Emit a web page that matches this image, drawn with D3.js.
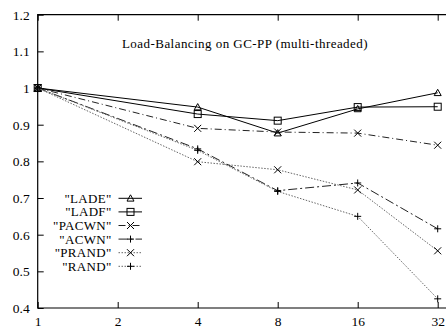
<!DOCTYPE html>
<html>
<head>
<meta charset="utf-8">
<script src="https://d3js.org/d3.v7.min.js"></script>
<style>
  body { margin: 0; background: #fff; }
  text { font-family: "Liberation Serif", "DejaVu Serif", serif; font-size: 13px; fill: #000; }
</style>
</head>
<body>
<svg width="446" height="329"></svg>
<script>
var threads = [1, 2, 4, 8, 16, 32];
var yTicks = [0.4, 0.5, 0.6, 0.7, 0.8, 0.9, 1, 1.1, 1.2];
var names = ["LADE", "LADF", "PACWN", "ACWN", "PRAND", "RAND"];
var xs = [1, 4, 8, 16, 32];
var lade  = [1, 0.948, 0.877, 0.943, 0.987];
var ladf  = [1, 0.929, 0.911, 0.948, 0.949];
var pacwn = [1, 0.890, 0.880, 0.877, 0.844];
var acwn  = [1, 0.834, 0.720, 0.741, 0.616];
var prand = [1, 0.799, 0.777, 0.722, 0.556];
var rand  = [1, 0.830, 0.718, 0.650, 0.425];

var series = [
  {name: names[0], vals: lade,  marker: "tri",  dash: null,       color: "#000"},
  {name: names[1], vals: ladf,  marker: "sq",   dash: null,       color: "#000"},
  {name: names[2], vals: pacwn, marker: "x",    dash: "7,3,1,3",  color: "#222"},
  {name: names[3], vals: acwn,  marker: "plus", dash: "9,3,2,3",  color: "#222"},
  {name: names[4], vals: prand, marker: "x",    dash: "1.5,1.5",  color: "#666"},
  {name: names[5], vals: rand,  marker: "plus", dash: "1.5,1.5",  color: "#666"}
];

var svg = d3.select("svg");
var pLeft = 37.7, pRight = 446, pTop = 14.7, pBottom = 308;

var x = d3.scaleLog().base(2).domain([1, 32]).range([pLeft, 437.7]);
var y = d3.scaleLinear().domain([0.4, 1.2]).range([pBottom, pTop]);

// frame
svg.append("path")
  .attr("d", "M" + pRight + "," + pTop + "H" + pLeft + "V" + pBottom + "H" + pRight)
  .attr("fill", "none").attr("stroke", "#000").attr("stroke-width", 1.2);

var xAxis = svg.append("g")
  .attr("transform", "translate(0," + pBottom + ")")
  .call(d3.axisBottom(x).tickValues(threads).tickFormat(d3.format("d"))
    .tickSizeInner(-6).tickSizeOuter(0).tickPadding(8));
xAxis.select(".domain").remove();
xAxis.selectAll("text").style("font-size", "13.5px");

var xTop = svg.append("g")
  .attr("transform", "translate(0," + pTop + ")")
  .call(d3.axisTop(x).tickValues(threads).tickFormat("").tickSizeInner(-6).tickSizeOuter(0));
xTop.select(".domain").remove();

var yAxis = svg.append("g")
  .attr("transform", "translate(" + pLeft + ",0)")
  .call(d3.axisLeft(y).tickValues(yTicks).tickFormat(d3.format("~g"))
    .tickSizeInner(-6).tickSizeOuter(0).tickPadding(8));
yAxis.select(".domain").remove();
yAxis.selectAll("text").style("font-size", "13.5px");
svg.selectAll(".tick line").attr("stroke", "#000");

svg.append("text")
  .attr("x", 245).attr("y", 47.5)
  .attr("text-anchor", "middle")
  .style("letter-spacing", "0.45px")
  .text("Load-Balancing on GC-PP (multi-threaded)");

function drawMarker(g, type, cx, cy, color) {
  var s = 3.5;
  if (type === "tri") {
    g.append("path").attr("d", "M" + cx + "," + (cy - s) + "L" + (cx + s) + "," + (cy + s * 0.8) + "L" + (cx - s) + "," + (cy + s * 0.8) + "Z")
      .attr("fill", "none").attr("stroke", color).attr("stroke-width", 1);
  } else if (type === "sq") {
    g.append("rect").attr("x", cx - s).attr("y", cy - s).attr("width", 2 * s).attr("height", 2 * s)
      .attr("fill", "none").attr("stroke", color).attr("stroke-width", 1);
  } else if (type === "x") {
    g.append("path").attr("d", "M" + (cx - s) + "," + (cy - s) + "L" + (cx + s) + "," + (cy + s) + "M" + (cx - s) + "," + (cy + s) + "L" + (cx + s) + "," + (cy - s))
      .attr("stroke", "#000").attr("stroke-width", 1);
  } else {
    g.append("path").attr("d", "M" + (cx - s) + "," + cy + "H" + (cx + s) + "M" + cx + "," + (cy - s) + "V" + (cy + s))
      .attr("stroke", "#000").attr("stroke-width", 1);
  }
}

var line = d3.line()
  .x(function(d) { return x(d[0]); })
  .y(function(d) { return y(d[1]); });

series.forEach(function(s) {
  var pts = xs.map(function(t, i) { return [t, s.vals[i]]; });
  var g = svg.append("g");
  g.append("path").datum(pts)
    .attr("d", line)
    .attr("fill", "none")
    .attr("stroke", s.color)
    .attr("stroke-width", 1)
    .attr("stroke-dasharray", s.dash);
  pts.forEach(function(p) { drawMarker(g, s.marker, x(p[0]), y(p[1]), "#000"); });
});

// legend
var legend = svg.append("g");
series.forEach(function(s, i) {
  var ly = 198.3 + i * 13.6;
  legend.append("text")
    .attr("x", 111.5).attr("y", ly).attr("dy", "0.35em")
    .attr("text-anchor", "end")
    .style("letter-spacing", "0.3px")
    .text('"' + s.name + '"');
  legend.append("line")
    .attr("x1", 118.5).attr("x2", 142).attr("y1", ly).attr("y2", ly)
    .attr("stroke", s.color).attr("stroke-width", 1)
    .attr("stroke-dasharray", s.dash);
  drawMarker(legend, s.marker, 130.5, ly, "#000");
});
</script>
</body>
</html>
